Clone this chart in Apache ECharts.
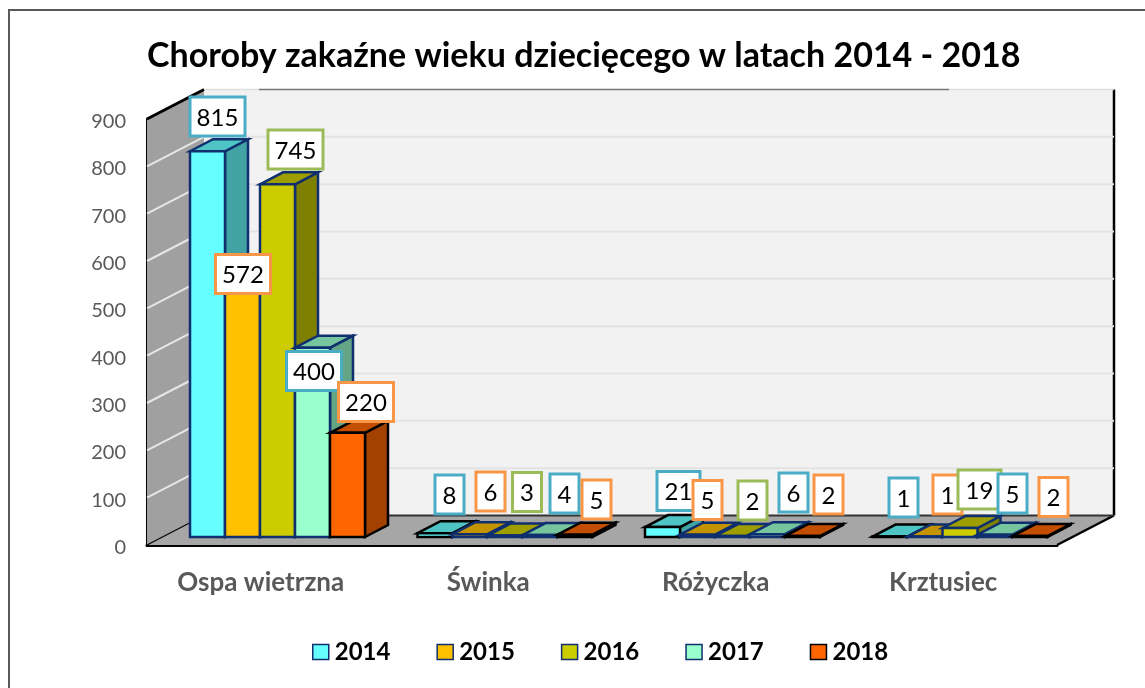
<!DOCTYPE html>
<html><head><meta charset="utf-8">
<style>html,body{margin:0;padding:0;background:#fff}#c{width:1145px;height:688px}</style>
<script src="https://cdn.jsdelivr.net/npm/echarts@6/dist/echarts.min.js"></script>
</head><body><div id="c"></div>
<script>
const categories = ['Ospa wietrzna','Świnka','Różyczka','Krztusiec'];
const years = ['2014','2015','2016','2017','2018'];
const v2014 = [815,8,21,1];
const v2015 = [572,6,5,1];
const v2016 = [745,3,2,19];
const v2017 = [400,4,6,5];
const v2018 = [220,5,2,2];
const yTicks = [0,100,200,300,400,500,600,700,800,900];
const title = 'Choroby zakaźne wieku dziecięcego w latach 2014 - 2018';

const values = [v2014,v2015,v2016,v2017,v2018];
const front = ['#66FFFF','#FFC000','#CCCC00','#99FFCC','#FF6600'];
const topC  = ['#4FC4C4','#C49300','#9E9E00','#76C59E','#C44E00'];
const sideC = ['#41A3A3','#A37B00','#808000','#63A584','#A34100'];
const edge  = ['#0F2F6E','#0F2F6E','#0F2F6E','#0F2F6E','#000000'];
const labelBorder = ['#4BACC6','#F79646','#9BBB59','#4BACC6','#F79646'];
// manual label placement (box centres), as moved by hand in the original [year][category]
const labelCentre = [
 [[217.5,116.5],[449.5,494.5],[678.5,491],[903.5,497.5]],
 [[243,274],[490.5,491.5],[707.5,500],[947.5,494.5]],
 [[295.5,149.5],[527,492],[752.5,500.5],[979.5,489.5]],
 [[314,371],[564.5,493.5],[793.5,492.5],[1012.5,493.5]],
 [[366,402],[596.5,499.5],[828.5,494.5],[1053.5,497]]
];
const DX=57, DY=29.5;      // wall depth
const FX=15, FY=8;         // bar front inset from floor front
const BX=23, BY=12;        // bar depth

function poly(points, fill, stroke, lw){
  return {type:'polygon',shape:{points},style:{fill,stroke,lineWidth:lw,lineJoin:'miter'}};
}
function barItem(si){
  return function(params, api){
    const cat=api.value(0), val=api.value(1);
    const c=api.coord([cat,val]), c0=api.coord([cat,0]);
    const band=api.size([1,0])[0], w=band*35/227.5;
    const x=c[0]+(si-2)*w+16.75-w/2, y=c[1]-FY, b=c0[1]-FY, r=x+w;
    const col=(si===0&&val<100)?'#000':edge[si], lw=2.5;
    return {type:'group',children:[
      poly([[r,y],[r+BX,y-BY],[r+BX,b-BY],[r,b]],sideC[si],col,lw),
      poly([[x,y],[x+BX,y-BY],[r+BX,y-BY],[r,y]],topC[si],col,lw),
      poly([[x,y],[r,y],[r,b],[x,b]],front[si],col,lw)
    ]};
  };
}
function wallItem(params, api){
  const t=api.value(0);
  const p=api.coord([0,t]);
  const left=p[0]-api.size([1,0])[0]/2;
  const W=api.size([1,0])[0]*4, y=p[1];
  const children=[];
  if(t===0){
    const top=api.coord([0,900])[1];
    const R=left+W;
    children.push(poly([[left+DX,top-DY],[R+DX,top-DY],[R+DX,y-DY],[left+DX,y-DY]],'#F2F2F2',null,0));
    children.push(poly([[left,top],[left+DX,top-DY],[left+DX,y-DY],[left,y]],'#A0A0A0',null,0));
    children.push(poly([[left,y],[left+DX,y-DY],[R+DX,y-DY],[R,y]],'#A6A6A6',null,0));
    const line=(a,b,wd,col)=>children.push({type:'line',shape:{x1:a[0],y1:a[1],x2:b[0],y2:b[1]},style:{stroke:col,lineWidth:wd}});
    line([left,top],[left+DX,top-DY],3,'#000');
    line([R,y],[R+DX,y-DY],2.5,'#000');
    line([R+DX,y-DY],[R+DX,top-DY],2.5,'#000');
    line([left+DX,top-DY],[left+DX+55,top-DY],1.5,'#DDDDDD');
    line([left+DX+55,top-DY],[left+DX+745,top-DY],1.5,'#777777');
    line([left+DX+745,top-DY],[R+DX,top-DY],1.5,'#DDDDDD');
    line([left,y],[left+DX,y-DY],1.2,'#000');
    line([left+DX,y-DY],[R+DX,y-DY],2,'#333');
  } else if(t<900){
    children.push({type:'line',shape:{x1:left+DX,y1:y-DY,x2:left+W+DX,y2:y-DY},style:{stroke:'#E3E3E3',lineWidth:2}});
    children.push({type:'line',shape:{x1:left,y1:y,x2:left+DX,y2:y-DY},style:{stroke:'#E6E6E6',lineWidth:2}});
  }
  return {type:'group',children};
}
function labelItem(params, api){
  const si=api.value(0), cat=api.value(1), val=api.value(2);
  const ct=labelCentre[si][cat];
  const txt=String(val);
  const w=txt.length===1?29:(txt.length===2?43:55), h=39;
  return {type:'group',children:[
    {type:'rect',shape:{x:ct[0]-w/2,y:ct[1]-h/2,width:w,height:h},style:{fill:'#fff',stroke:labelBorder[si],lineWidth:3}},
    {type:'text',style:{text:txt,x:ct[0],y:ct[1]+1.5,align:'center',verticalAlign:'middle',fontFamily:'Lato',fontSize:24,fill:'#000'}}
  ]};
}
const series=[{type:'custom',coordinateSystem:'cartesian2d',silent:true,clip:false,z:1,
  data:yTicks.map(t=>[t]),encode:{x:[],y:0},renderItem:wallItem}];
years.forEach((yr,si)=>series.push({type:'custom',name:yr,coordinateSystem:'cartesian2d',clip:false,z:2,silent:true,
  itemStyle:{color:front[si],borderColor:edge[si],borderWidth:1.5},
  encode:{x:0,y:1},data:values[si].map((v,i)=>[i,v]),renderItem:barItem(si)}));
const labelData=[];
values.forEach((arr,si)=>arr.forEach((v,ci)=>labelData.push([si,ci,v])));
series.push({type:'custom',coordinateSystem:'cartesian2d',silent:true,clip:false,z:5,
  encode:{x:[],y:[]},data:labelData,renderItem:labelItem});

const chart=echarts.init(document.getElementById('c'),null,{renderer:'canvas'});
chart.setOption({
  animation:false,
  backgroundColor:'#fff',
  title:{text:title,left:147,top:39,padding:0,textStyle:{fontFamily:'Lato',fontWeight:'bold',fontSize:34,color:'#000'}},
  legend:{data:years,left:312,top:640,padding:0,icon:'rect',itemWidth:16,itemHeight:15,itemGap:46,itemStyle:{borderWidth:1.5},selectedMode:false,
    textStyle:{fontFamily:'Lato',fontWeight:'bold',fontSize:24,color:'#000',padding:[0,0,0,1]}},
  grid:{left:147,top:119,width:910,height:426,containLabel:false},
  xAxis:{type:'category',data:categories,axisTick:{show:false},
    axisLine:{show:true,lineStyle:{color:'#000',width:3}},
    axisLabel:{margin:25,fontFamily:'Lato',fontWeight:'bold',fontSize:26,color:'#595959'}},
  yAxis:{type:'value',min:0,max:900,interval:100,splitLine:{show:false},axisTick:{show:false},
    axisLine:{show:true,lineStyle:{color:'#000',width:3}},
    axisLabel:{margin:21,formatter:'{a|{value}}',rich:{a:{fontFamily:'Lato',fontSize:20,color:'#595959',padding:[5,0,0,0]}}}},
  graphic:[{type:'rect',silent:true,z:100,shape:{x:9,y:10,width:1300,height:800},style:{fill:null,stroke:'#595959',lineWidth:2}}],
  series
});
</script></body></html>
